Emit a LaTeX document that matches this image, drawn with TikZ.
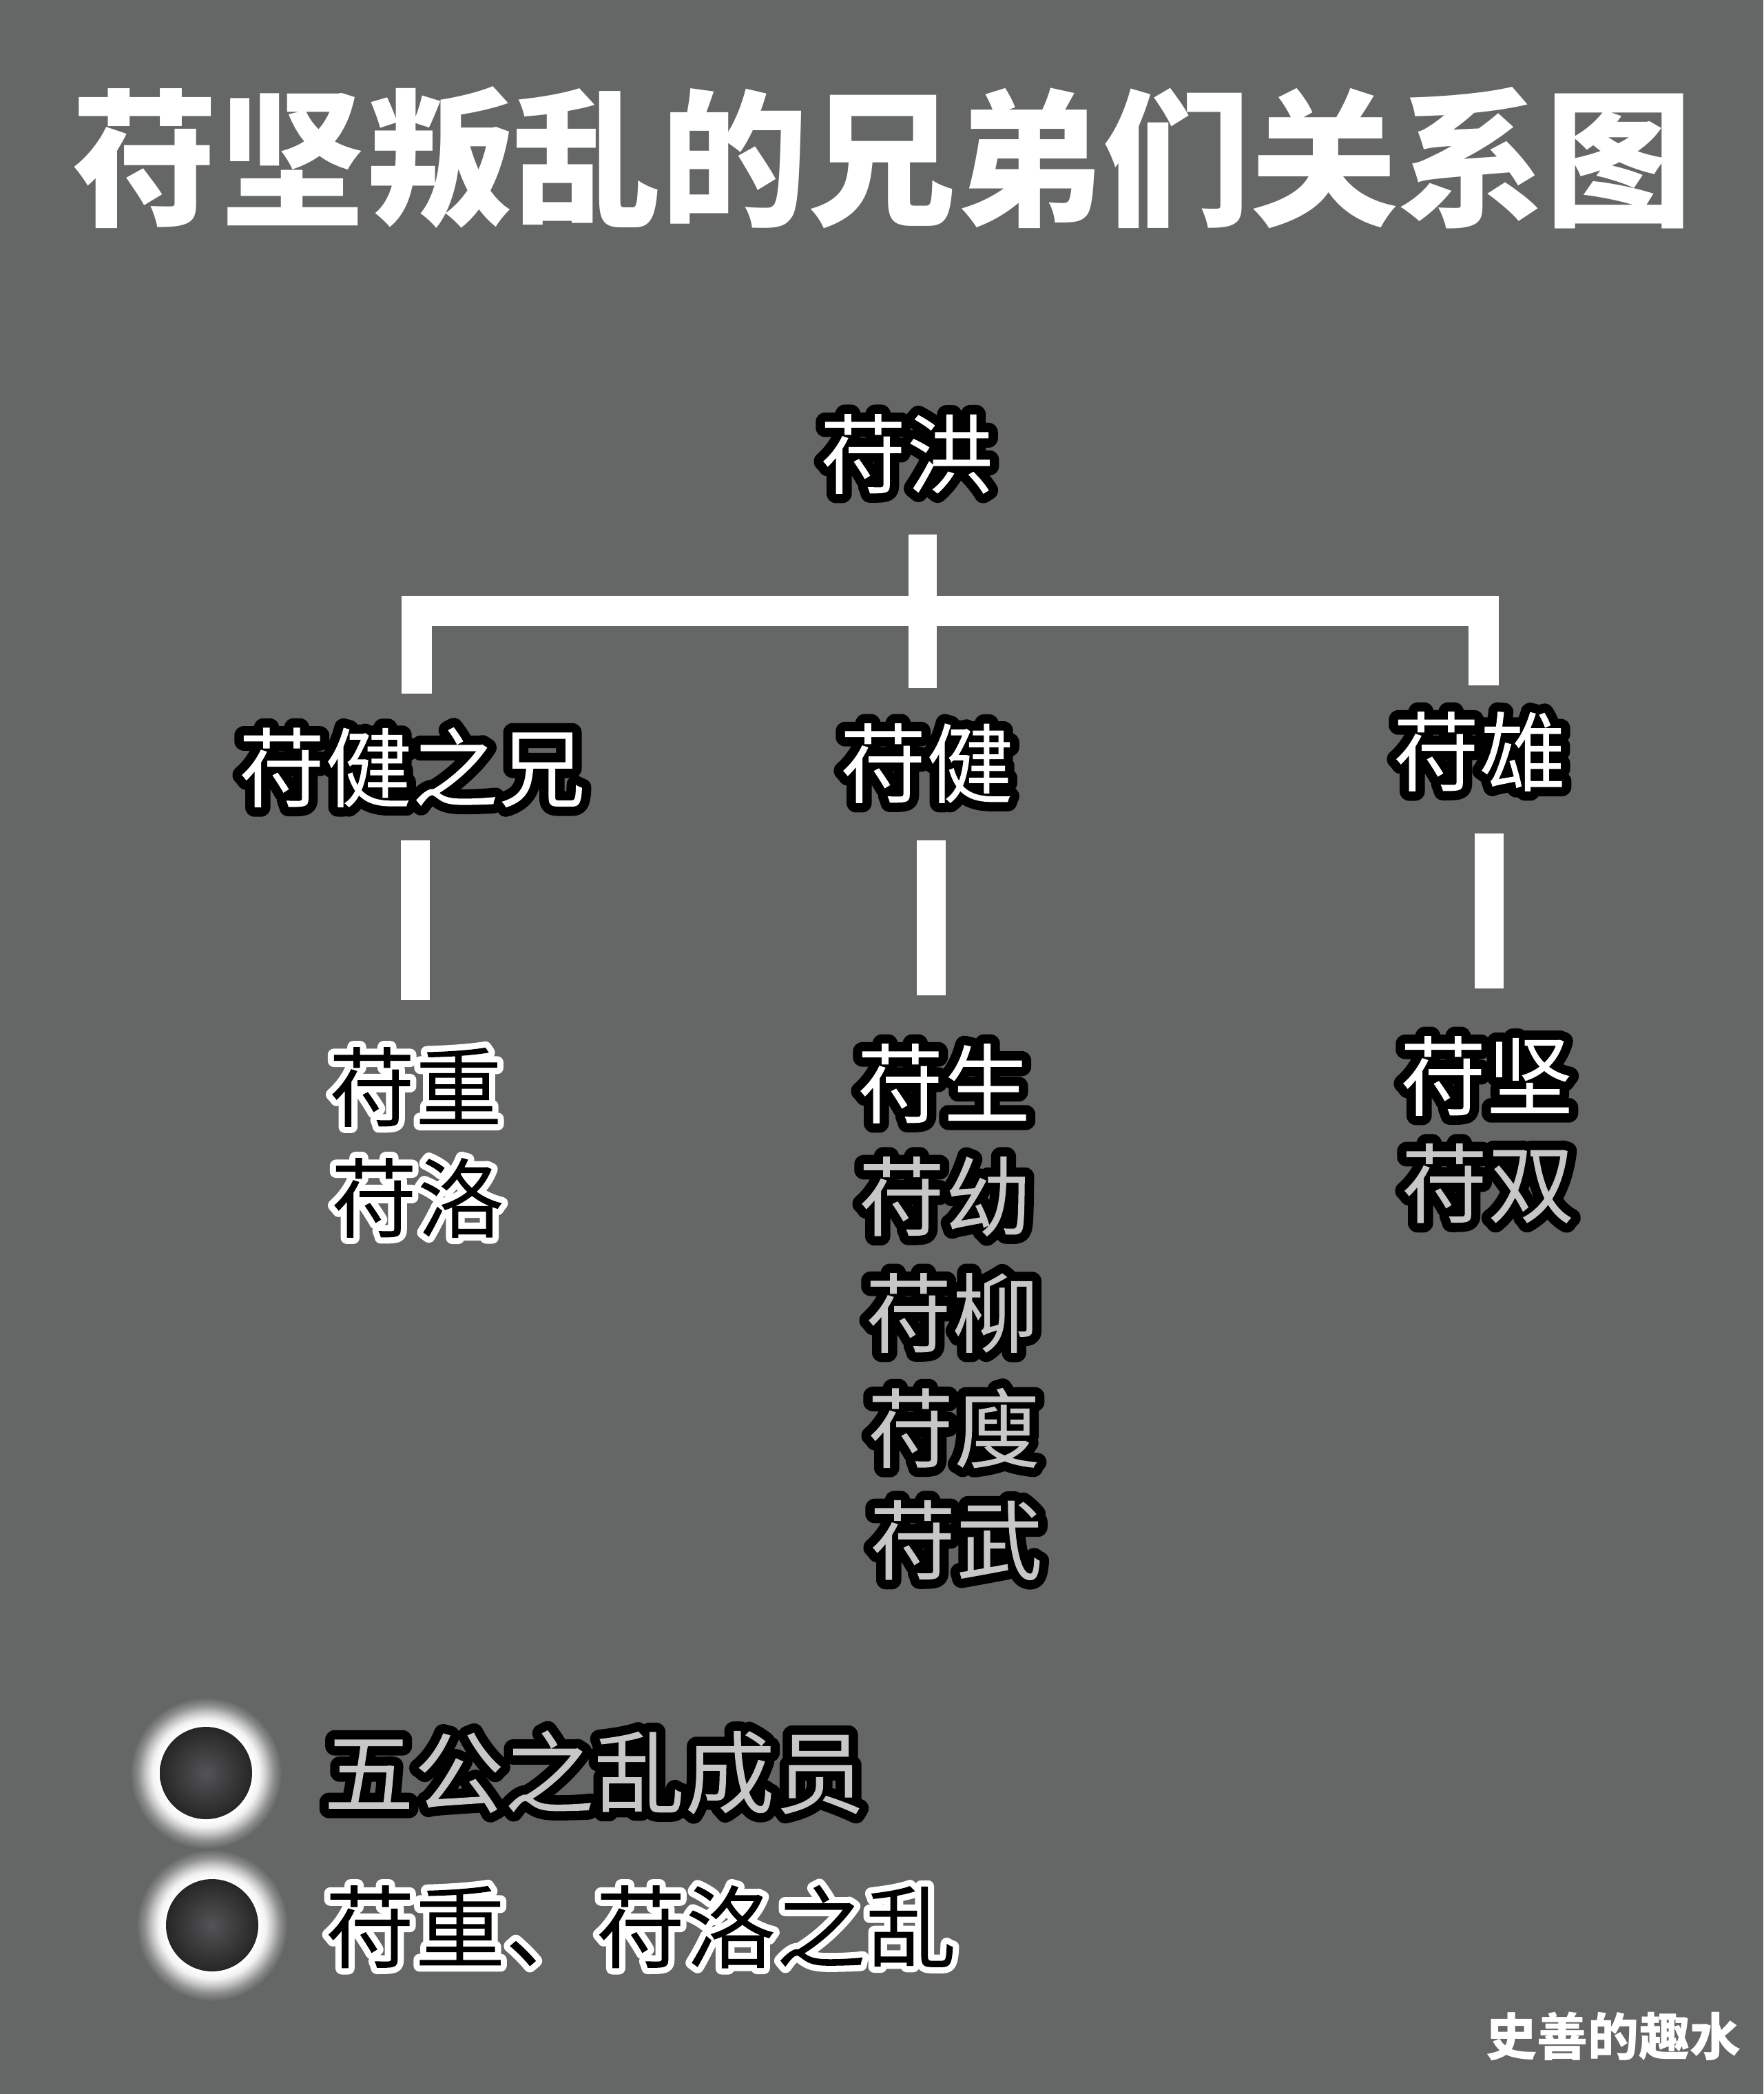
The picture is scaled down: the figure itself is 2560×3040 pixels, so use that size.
\documentclass[tikz,border=0pt]{standalone}
\usepackage{fontspec}
\setmainfont{Noto Sans CJK SC}
\definecolor{bg}{RGB}{101,102,102}
\definecolor{circdark}{RGB}{38,38,39}
\definecolor{circmid}{RGB}{84,84,86}
% radial shading: 25bp corresponds to the circle's radius (110)
\pgfdeclareradialshading{glow}{\pgfpoint{0bp}{0bp}}{color(0bp)=(white);color(15.2bp)=(white);color(17.7bp)=(white!92!bg);color(20bp)=(white!62!bg);color(22.3bp)=(white!27!bg);color(25bp)=(bg);color(50bp)=(bg)}
% outlined text: #1 outline RGB, #2 fill RGB, #3 outline width (doubled), #4 text
\newcommand\olt[4]{\special{x:gsave}\special{pdf:literal direct 5 Tr #3 w 1 j 1 J #1 RG}#4\special{pdf:literal #2 rg -1300 -120 1400 400 re f}\special{x:grestore}}
\newcommand\wtext[1]{\olt{0 0 0}{1 1 1}{27}{#1}}
\newcommand\gtext[1]{\olt{0 0 0}{0.78 0.78 0.78}{27}{#1}}
\newcommand\btext[1]{\olt{1 1 1}{0 0 0}{18}{#1}}
\tikzset{
  lbl/.style={inner sep=0pt, font=\fontsize{126}{126}\selectfont},
  legtxt/.style={inner sep=0pt, font=\fontsize{131}{131}\selectfont},
  bar/.style={draw=white, line width=42pt, line cap=butt},
  titlefont/.style={inner sep=0pt, font=\fontsize{214}{214}\selectfont\bfseries},
}
\begin{document}
\begin{tikzpicture}[x=1pt,y=-1pt]
\useasboundingbox (0,0) rectangle (2560,3040);
\fill[bg] (0,0) rectangle (2560,3040);

% title
\node[titlefont, text=white] (title) at (1280,229) {苻坚叛乱的兄弟们关系图};

% tree labels
\node[lbl] (hong) at (1316,659) {\wtext{苻洪}};
\node[lbl] (xiong0) at (598,1114) {\wtext{苻健之兄}};
\node[lbl] (jian) at (1345,1108) {\wtext{苻健}};
\node[lbl] (xiong) at (2148,1091) {\wtext{苻雄}};

\node[lbl] (chong) at (603,1578) {\btext{苻重}};
\node[lbl] (luo) at (606,1739) {\btext{苻洛}};

\node[lbl] (sheng) at (1370,1573) {\wtext{苻生}};
\node[lbl] (you) at (1372,1737) {\gtext{苻幼}};
\node[lbl] (liu) at (1382,1906) {\gtext{苻柳}};
\node[lbl] (sou) at (1385,2073) {\gtext{苻廋}};
\node[lbl] (wu) at (1388,2236) {\gtext{苻武}};

\node[lbl] (jianfu) at (2158,1562) {\wtext{苻坚}};
\node[lbl] (shuang) at (2160,1718) {\gtext{苻双}};

% connectors
\coordinate (stemT) at (1339.5,776);
\coordinate (stemB) at (1339.5,999);
\coordinate (lB) at (605,1007);
\coordinate (lC) at (605,887);
\coordinate (rC) at (2154,887);
\coordinate (rB) at (2154,995);
\draw[bar, line width=41pt] (stemT) -- (stemB);
\draw[bar, line width=44pt, line join=miter] (lB) -- (lC) -- (rC) -- (rB);

\coordinate (aT) at (603,1220);
\coordinate (aB) at (603,1452);
\coordinate (bT) at (1351.5,1220);
\coordinate (bB) at (1351.5,1445);
\coordinate (cT) at (2161.5,1210);
\coordinate (cB) at (2161.5,1435);
\draw[bar] (aT) -- (aB);
\draw[bar] (bT) -- (bB);
\draw[bar] (cT) -- (cB);

% legend
\shade[shading=glow] (299,2574) circle[radius=110pt];
\shade[inner color=circmid, outer color=circdark] (299,2574) circle[radius=67pt];
\node[legtxt] (leg1) at (863,2573) {\gtext{五公之乱成员}};

\shade[shading=glow] (308,2795) circle[radius=110pt];
\shade[inner color=circmid, outer color=circdark] (308,2795) circle[radius=67pt];
\node[legtxt] (leg2) at (930,2797) {\btext{苻重、苻洛之乱}};

% watermark
\node[inner sep=0pt, font=\fontsize{74}{74}\selectfont\bfseries, text=white] (wm) at (2342,2956) {史善的趣水};
\end{tikzpicture}
\end{document}
